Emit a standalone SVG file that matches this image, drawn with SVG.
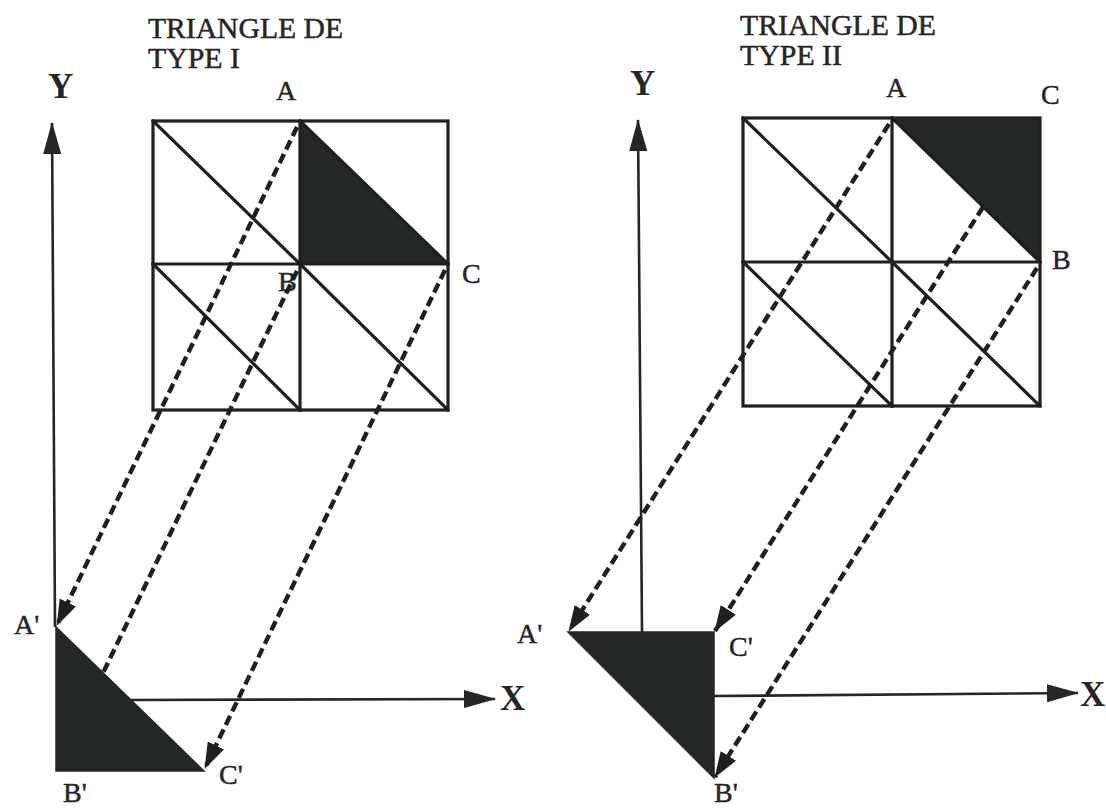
<svg xmlns="http://www.w3.org/2000/svg" width="1106" height="809" viewBox="0 0 1106 809">
  <defs>
    <style>
      .grid { stroke: #1f1f1f; stroke-width: 3.2; fill: none; stroke-linecap: square; }
      .axis { stroke: #262626; stroke-width: 2.6; fill: none; }
      .proj { stroke: #1f1f1f; stroke-width: 4.4; fill: none; stroke-dasharray: 10 5; }
      .shade { fill: #232725; stroke: #232725; stroke-width: 1.5; stroke-linejoin: miter; }
      .title { font-family: "Liberation Serif", "Times New Roman", serif; font-size: 29px; fill: #262626; stroke: #262626; stroke-width: 0.5; }
      .lbl { font-family: "Liberation Serif", "Times New Roman", serif; font-size: 28px; fill: #262626; stroke: #262626; stroke-width: 0.5; }
      .ax { font-family: "Liberation Serif", "Times New Roman", serif; font-size: 35px; font-weight: bold; fill: #262626; }
    </style>
    <marker id="projHead" markerUnits="userSpaceOnUse" markerWidth="26" markerHeight="18" viewBox="0 0 26 18" refX="25" refY="9" orient="auto">
      <path d="M0,0 L26,9 L0,18 Z" fill="#1f1f1f"/>
    </marker>
    <marker id="axisHead" markerUnits="userSpaceOnUse" markerWidth="32" markerHeight="18" viewBox="0 0 32 18" refX="31" refY="9" orient="auto">
      <path d="M0,0 L32,9 L0,18 Z" fill="#262626"/>
    </marker>
  </defs>

  <rect width="1106" height="809" fill="#ffffff"/>

  <!-- ============ TYPE I ============ -->
  <g id="type1-title">
    <text class="title" x="148" y="38" textLength="195" lengthAdjust="spacingAndGlyphs">TRIANGLE DE</text>
    <text class="title" x="148" y="68" textLength="92" lengthAdjust="spacingAndGlyphs">TYPE I</text>
  </g>

  <g id="type1-triangle-ABC">
    <polygon class="shade" points="300,121 300,264 448,264"/>
  </g>

  <g id="type1-grid">
    <rect class="grid" x="153" y="121" width="295" height="289"/>
    <line class="grid" x1="300" y1="121" x2="300" y2="410"/>
    <line class="grid" x1="153" y1="264" x2="448" y2="264"/>
    <line class="grid" x1="153" y1="121" x2="300" y2="264"/>
    <line class="grid" x1="300" y1="121" x2="448" y2="264"/>
    <line class="grid" x1="153" y1="264" x2="300" y2="410"/>
    <line class="grid" x1="300" y1="264" x2="448" y2="410"/>
  </g>

  <g id="type1-triangle-image">
    <polygon class="shade" points="56,627 56,771 204,771"/>
  </g>

  <g id="type1-axes">
    <line class="axis" x1="55" y1="627" x2="52" y2="123" marker-end="url(#axisHead)"/>
    <line class="axis" x1="131" y1="700" x2="495" y2="699" marker-end="url(#axisHead)"/>
  </g>

  <g id="type1-labels">
    <text class="ax" x="48" y="98">Y</text>
    <text class="ax" x="500" y="710">X</text>
    <text class="lbl" x="276" y="100">A</text>
    <text class="lbl" x="278" y="291">B</text>
    <text class="lbl" x="462" y="283">C</text>
    <text class="lbl" x="14" y="634">A'</text>
    <text class="lbl" x="63" y="802">B'</text>
    <text class="lbl" x="219" y="784">C'</text>
  </g>

  <!-- ============ TYPE II ============ -->
  <g id="type2-title">
    <text class="title" x="740" y="35" textLength="196" lengthAdjust="spacingAndGlyphs">TRIANGLE DE</text>
    <text class="title" x="740" y="65" textLength="102" lengthAdjust="spacingAndGlyphs">TYPE II</text>
  </g>

  <g id="type2-triangle-ABC">
    <polygon class="shade" points="892,118 1040,118 1040,262"/>
  </g>

  <g id="type2-grid">
    <rect class="grid" x="743" y="118" width="297" height="288"/>
    <line class="grid" x1="892" y1="118" x2="892" y2="406"/>
    <line class="grid" x1="743" y1="262" x2="1040" y2="262"/>
    <line class="grid" x1="743" y1="118" x2="892" y2="262"/>
    <line class="grid" x1="892" y1="118" x2="1040" y2="262"/>
    <line class="grid" x1="743" y1="262" x2="892" y2="406"/>
    <line class="grid" x1="892" y1="262" x2="1040" y2="406"/>
  </g>

  <g id="type2-triangle-image">
    <polygon class="shade" points="568,632 714,632 714,778"/>
  </g>

  <g id="type2-axes">
    <line class="axis" x1="642" y1="632" x2="638" y2="120" marker-end="url(#axisHead)"/>
    <line class="axis" x1="714" y1="696" x2="1078" y2="693" marker-end="url(#axisHead)"/>
  </g>

  <g id="type2-labels">
    <text class="ax" x="630" y="95">Y</text>
    <text class="ax" x="1080" y="706" font-size="33">X</text>
    <text class="lbl" x="886" y="97">A</text>
    <text class="lbl" x="1041" y="104">C</text>
    <text class="lbl" x="1052" y="269">B</text>
    <text class="lbl" x="517" y="643">A'</text>
    <text class="lbl" x="729" y="656">C'</text>
    <text class="lbl" x="714" y="802">B'</text>
  </g>

  <!-- ============ projection connectors ============ -->
  <g id="connectors">
    <line class="proj" x1="297" y1="127" x2="57" y2="625" marker-end="url(#projHead)"/>
    <line class="proj" x1="297" y1="271" x2="103" y2="673"/>
    <line class="proj" x1="445" y1="270" x2="205" y2="768" marker-end="url(#projHead)"/>

    <line class="proj" x1="889" y1="124" x2="569" y2="631" marker-end="url(#projHead)"/>
    <line class="proj" x1="983" y1="207" x2="715" y2="631" marker-end="url(#projHead)"/>
    <line class="proj" x1="1037" y1="268" x2="715" y2="777" marker-end="url(#projHead)"/>
  </g>
</svg>
